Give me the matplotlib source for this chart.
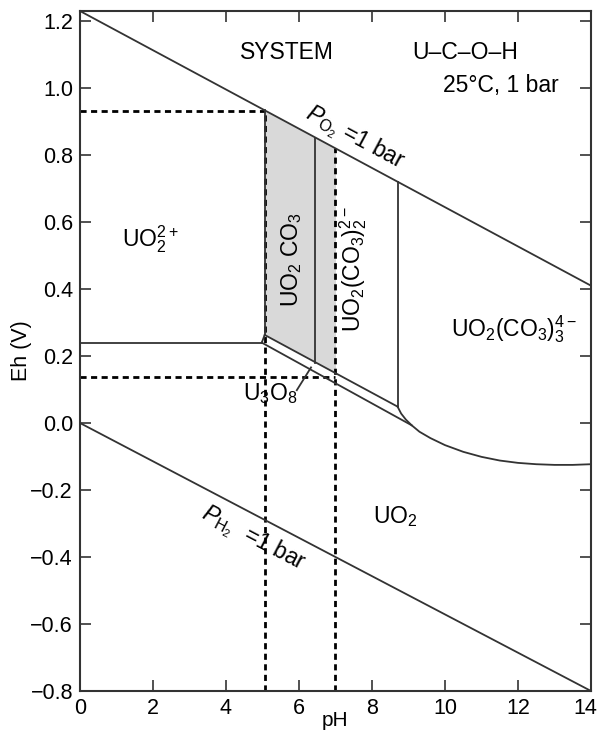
import numpy as np
import matplotlib
matplotlib.use('Agg')
import matplotlib.pyplot as plt
from matplotlib.transforms import ScaledTranslation

plt.rcParams['font.family'] = ['Liberation Sans', 'DejaVu Sans']
plt.rcParams['mathtext.fontset'] = 'custom'
plt.rcParams['mathtext.rm'] = 'Liberation Sans'
plt.rcParams['mathtext.it'] = 'Liberation Sans:italic'
plt.rcParams['mathtext.bf'] = 'Liberation Sans:bold'
plt.rcParams['mathtext.default'] = 'regular'

# water stability limits
o2_ph = [0, 14]
o2_eh = [1.23, 0.41]
h2_ph = [0, 14]
h2_eh = [0.0, -0.8]

# field boundaries (pH, Eh)
uo2_ion_ph = [0, 4.98]
uo2_ion_eh = [0.24, 0.24]
junction_ph = [4.98, 5.06]
junction_eh = [0.24, 0.263]
carb_left_ph = [5.06, 5.06]
carb_left_eh = [0.263, 0.934]
carb_mid_ph = [6.45, 6.45]
carb_mid_eh = [0.18, 0.852]
carb_right_ph = [8.7, 8.7]
carb_right_eh = [0.049, 0.72]
u3o8_top_ph = [5.06, 8.7]
u3o8_top_eh = [0.263, 0.049]
u3o8_bot_ph = [4.98, 9.09]
u3o8_bot_eh = [0.24, -0.007]
tricarb_ph = [8.7, 8.8, 8.93, 9.09, 9.3, 9.6, 10.0, 10.5, 11.0, 11.5, 12.0, 12.5, 13.0, 13.5, 14.0]
tricarb_eh = [0.049, 0.028, 0.01, -0.007, -0.026, -0.045, -0.066, -0.086, -0.101,
              -0.112, -0.119, -0.123, -0.125, -0.125, -0.123]

# shaded band and dashed guides
shade_ph = [5.06, 7.0]
guide1_ph, guide1_eh = 5.06, 0.93
guide2_ph, guide2_eh = 7.0, 0.137

fig = plt.figure(figsize=(6, 7.34), dpi=100)
ax = fig.add_axes([0.1333, 0.0586, 0.8517, 0.9264])

lc = '#333333'
lw = 1.3

# shaded UO2CO3 band
xs = np.linspace(shade_ph[0], shade_ph[1], 50)
lower = np.interp(xs, u3o8_top_ph, u3o8_top_eh)
upper = np.interp(xs, o2_ph, o2_eh)
ax.fill_between(xs, lower, upper, color='#d9d9d9', lw=0, zorder=1)

# dashed guides
ds = (0, (2.2, 1.6))
ax.plot([0, guide1_ph], [guide1_eh, guide1_eh], color='k', ls=ds, lw=2, zorder=2)
ax.plot([guide1_ph, guide1_ph], [-0.8, guide1_eh], color='k', ls=ds, lw=2, zorder=2)
ax.plot([0, guide2_ph], [guide2_eh, guide2_eh], color='k', ls=ds, lw=2, zorder=2)
ax.plot([guide2_ph, guide2_ph], [-0.8, np.interp(guide2_ph, o2_ph, o2_eh)],
        color='k', ls=ds, lw=2, zorder=2)

for px, ey in [(o2_ph, o2_eh), (h2_ph, h2_eh), (uo2_ion_ph, uo2_ion_eh),
               (junction_ph, junction_eh), (carb_left_ph, carb_left_eh),
               (carb_mid_ph, carb_mid_eh), (carb_right_ph, carb_right_eh),
               (u3o8_top_ph, u3o8_top_eh), (u3o8_bot_ph, u3o8_bot_eh),
               (tricarb_ph, tricarb_eh)]:
    ax.plot(px, ey, color=lc, lw=lw, zorder=3)

# U3O8 pointer
ax.plot([5.94, 6.33], [0.098, 0.166], color=lc, lw=lw, zorder=3)

fs = 16.5
ax.text(5.67, 1.105, 'SYSTEM', fontsize=fs, ha='center', va='center')
ax.text(10.55, 1.105, 'U\u2013C\u2013O\u2013H', fontsize=fs, ha='center', va='center')
ax.text(11.53, 1.007, '25\u00b0C, 1 bar', fontsize=fs, ha='center', va='center')
ax.text(1.92, 0.55, 'UO$_2^{2+}$', fontsize=fs, ha='center', va='center')
ax.text(5.8, 0.489, 'UO$_2$ CO$_3$', fontsize=fs, ha='center', va='center', rotation=90)
ax.text(7.48, 0.459, 'UO$_2$(CO$_3$)$_2^{2-}$', fontsize=fs, ha='center', va='center',
        rotation=90)
ax.text(11.9, 0.281, 'UO$_2$(CO$_3$)$_3^{4-}$', fontsize=fs, ha='center', va='center')
ax.text(5.2, 0.089, 'U$_3$O$_8$', fontsize=fs, ha='center', va='center')
ax.text(8.63, -0.28, 'UO$_2$', fontsize=fs, ha='center', va='center')

ang_o2 = np.degrees(np.arctan((o2_eh[1] - o2_eh[0]) / (o2_ph[1] - o2_ph[0])))
ang_h2 = np.degrees(np.arctan((h2_eh[1] - h2_eh[0]) / (h2_ph[1] - h2_ph[0])))
ax.text(7.53, 0.851, r'$\mathit{P}_{O_2}$ =1 bar', fontsize=fs, ha='center', va='center',
        rotation=ang_o2, transform_rotates_text=True, rotation_mode='anchor')
ax.text(4.74, -0.345, r'$\mathit{P}_{H_2}$  =1 bar', fontsize=fs, ha='center', va='center',
        rotation=ang_h2, transform_rotates_text=True, rotation_mode='anchor')

ax.set_xlim(0, 14)
ax.set_ylim(-0.8, 1.23)
ax.set_xticks(np.arange(0, 15, 2))
ax.set_yticks(np.round(np.arange(-0.8, 1.21, 0.2), 1))
ax.tick_params(direction='in', top=True, right=True, length=8, width=1.2,
               labelsize=15.5, color=lc, pad=5)
for s in ax.spines.values():
    s.set_color(lc)
    s.set_linewidth(1.5)
ax.set_xlabel('pH', fontsize=15, labelpad=-6)
ax.set_ylabel('Eh (V)', fontsize=15.5, labelpad=-1)

# nudge the last x label so it stays inside the figure
last = ax.xaxis.get_major_ticks()[-1].label1
last.set_transform(last.get_transform() + ScaledTranslation(-4 / 72, 0, fig.dpi_scale_trans))

fig.savefig('out.png', dpi=100)
